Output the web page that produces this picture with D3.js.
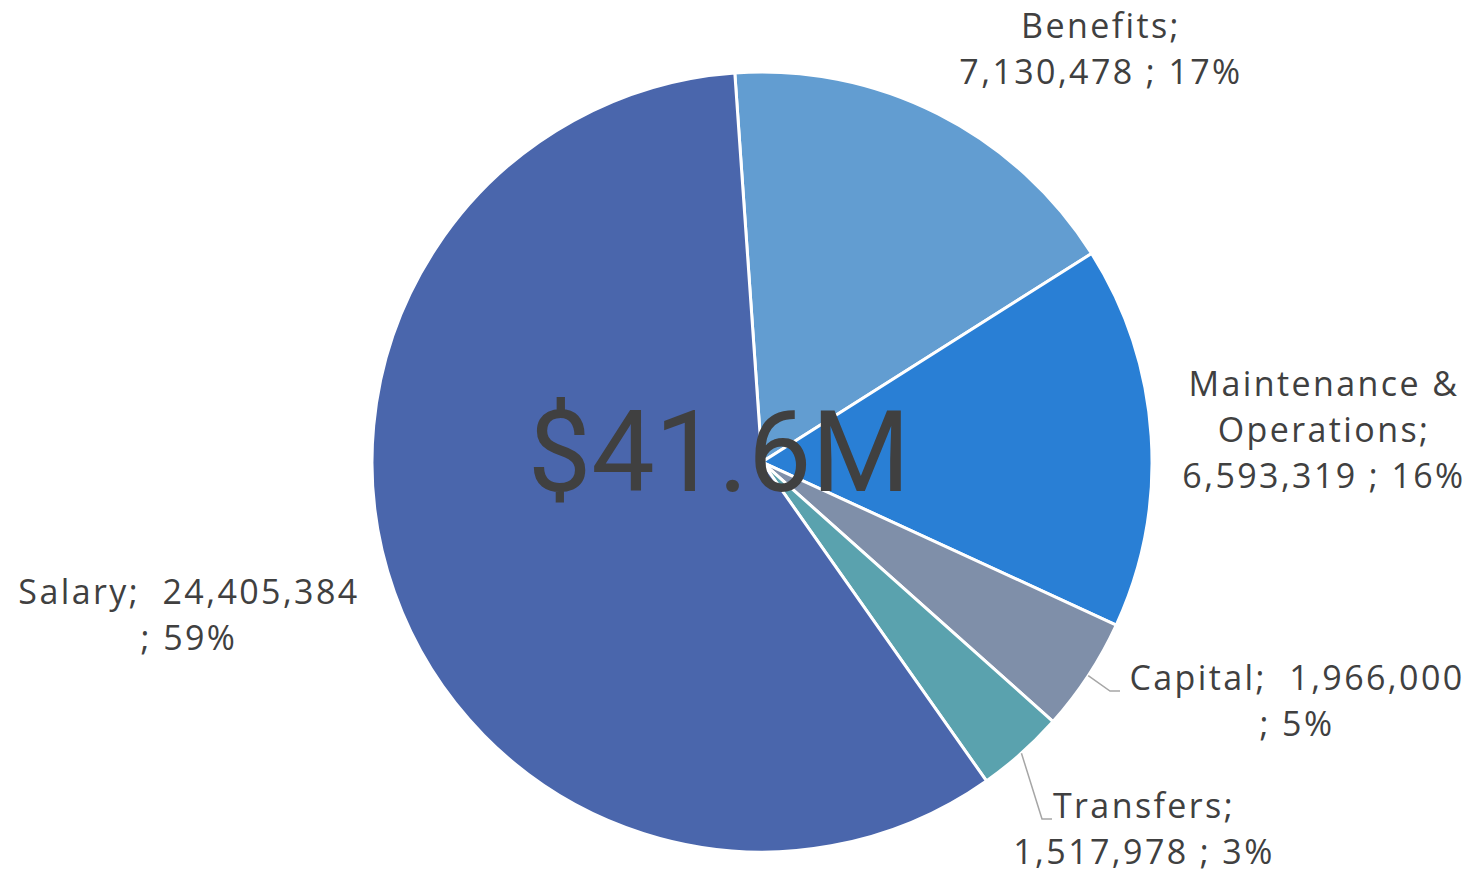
<!DOCTYPE html>
<meta charset="utf-8">
<style>
body { margin: 0; background: #fff; }
.labels text {
  font-family: "Open Sans", "Noto Sans", sans-serif;
  font-size: 34px;
  letter-spacing: 2.4px;
  fill: #404040;
}
.leaders polyline {
  fill: none;
  stroke: #a6a6a6;
  stroke-width: 1.5px;
}
</style>
<svg width="1476" height="875"></svg>
<script src="https://d3js.org/d3.v7.min.js"></script>
<script>
var categories = ["Benefits", "Maintenance & Operations", "Capital", "Transfers", "Salary"];
var values = [7130478, 6593319, 1966000, 1517978, 24405384];
var colors = ["#629DD1", "#297FD5", "#7F8FA9", "#5AA2AE", "#4A66AC"];
var totalLabel = "$41.6M";

// label lines per slice, as shown in the chart
var labelLines = [
  ["Benefits;", "7,130,478 ; 17%"],
  ["Maintenance &", "Operations;", "6,593,319 ; 16%"],
  ["Capital;  1,966,000", "; 5%"],
  ["Transfers;", "1,517,978 ; 3%"],
  ["Salary;  24,405,384", "; 59%"]
];
// label anchor (center x, first baseline y)
var labelPos = [[1101, 38], [1324, 396], [1297, 690], [1144, 818], [189, 604]];
// leader lines only for the small slices
var leaderEnd = [null, null, [1120, 691], [1052, 819], null];

var svg = d3.select("svg"),
    cx = 762, cy = 462, radius = 390;

var pie = d3.pie().sort(null)
    .startAngle(-4 * Math.PI / 180)
    .endAngle(2 * Math.PI - 4 * Math.PI / 180);
var arcs = pie(values);
var arc = d3.arc().innerRadius(0).outerRadius(radius);

var g = svg.append("g").attr("transform", "translate(" + cx + "," + cy + ")");

g.selectAll("path")
    .data(arcs)
    .enter().append("path")
      .attr("d", arc)
      .attr("fill", function(d, i) { return colors[i]; })
      .attr("stroke", "#fff")
      .attr("stroke-width", 3)
      .attr("stroke-linejoin", "round");

g.append("text")
    .attr("x", -43)
    .attr("y", 29)
    .attr("text-anchor", "middle")
    .style("font-family", "Roboto, sans-serif")
    .style("font-size", "113px")
    .style("fill", "#404040")
    .text(totalLabel);

var leaders = svg.append("g").attr("class", "leaders");
arcs.forEach(function(d, i) {
  if (!leaderEnd[i]) return;
  var a = (d.startAngle + d.endAngle) / 2;
  var sx = cx + Math.sin(a) * radius, sy = cy - Math.cos(a) * radius;
  var e = leaderEnd[i];
  var mid = [e[0] - 10, e[1]];
  leaders.append("polyline")
      .attr("points", [[sx, sy], mid, e].map(function(p) { return p.join(","); }).join(" "));
});

var labels = svg.append("g").attr("class", "labels");
labelLines.forEach(function(lines, i) {
  var t = labels.append("text")
      .attr("text-anchor", "middle")
      .attr("x", labelPos[i][0])
      .attr("y", labelPos[i][1]);
  lines.forEach(function(line, j) {
    t.append("tspan")
        .attr("x", labelPos[i][0])
        .attr("dy", j === 0 ? 0 : 46)
        .style("white-space", "pre")
        .text(line);
  });
});
</script>
